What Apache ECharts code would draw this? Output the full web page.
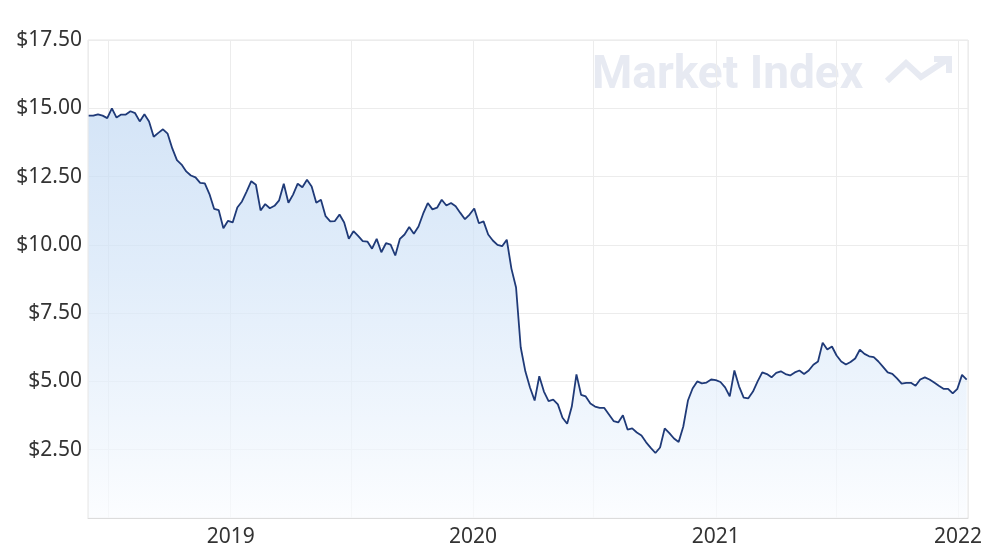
<!DOCTYPE html>
<html>
<head>
<meta charset="utf-8">
<script src="https://cdn.jsdelivr.net/npm/echarts@6/dist/echarts.min.js"></script>
<style>
html,body{margin:0;padding:0;background:#fff;}
#chart{width:1000px;height:559px;}
</style>
</head>
<body>
<div id="chart"></div>
<script>
// Weekly closing dates (MM-DD per year)
var weeks2018 = ['06-01','06-08','06-15','06-22','06-29','07-06','07-13','07-20','07-27','08-03','08-10','08-17','08-24','08-31','09-07','09-14','09-21','09-28','10-05','10-12','10-19','10-26','11-02','11-09','11-16','11-23','11-30','12-07','12-14','12-21','12-28'];
var weeks2019 = ['01-04','01-11','01-18','01-25','02-01','02-08','02-15','02-22','03-01','03-08','03-15','03-22','03-29','04-05','04-12','04-19','04-26','05-03','05-10','05-17','05-24','05-31','06-07','06-14','06-21','06-28','07-05','07-12','07-19','07-26','08-02','08-09','08-16','08-23','08-30','09-06','09-13','09-20','09-27','10-04','10-11','10-18','10-25','11-01','11-08','11-15','11-22','11-29','12-06','12-13','12-20','12-27'];
var weeks2020 = ['01-03','01-10','01-17','01-24','01-31','02-07','02-14','02-21','02-28','03-06','03-13','03-20','03-27','04-03','04-10','04-17','04-24','05-01','05-08','05-15','05-22','05-29','06-05','06-12','06-19','06-26','07-03','07-10','07-17','07-24','07-31','08-07','08-14','08-21','08-28','09-04','09-11','09-18','09-25','10-02','10-09','10-16','10-23','10-30','11-06','11-13','11-20','11-27','12-04','12-11','12-18','12-25'];
var weeks2021 = ['01-01','01-08','01-15','01-22','01-29','02-05','02-12','02-19','02-26','03-05','03-12','03-19','03-26','04-02','04-09','04-16','04-23','04-30','05-07','05-14','05-21','05-28','06-04','06-11','06-18','06-25','07-02','07-09','07-16','07-23','07-30','08-06','08-13','08-20','08-27','09-03','09-10','09-17','09-24','10-01','10-08','10-15','10-22','10-29','11-05','11-12','11-19','11-26','12-03','12-10','12-17','12-24','12-31'];
var weeks2022 = ['01-07','01-14'];

// Share price ($) per week
var prices2018 = [14.73,14.73,14.78,14.73,14.64,15.00,14.66,14.77,14.77,14.89,14.82,14.52,14.78,14.52,13.96,14.10,14.23,14.07,13.53,13.10,12.94,12.69,12.54,12.47,12.27,12.25,11.86,11.32,11.27,10.61,10.88];
var prices2019 = [10.82,11.37,11.59,11.95,12.33,12.20,11.26,11.49,11.34,11.43,11.63,12.24,11.54,11.84,12.24,12.11,12.38,12.14,11.54,11.65,11.05,10.86,10.87,11.11,10.82,10.22,10.50,10.33,10.14,10.12,9.86,10.22,9.73,10.06,10.01,9.61,10.22,10.38,10.65,10.41,10.67,11.14,11.53,11.30,11.36,11.65,11.44,11.53,11.41,11.17,10.94,11.11];
var prices2020 = [11.33,10.79,10.86,10.38,10.16,10.00,9.95,10.19,9.13,8.44,6.25,5.37,4.78,4.30,5.19,4.63,4.28,4.33,4.16,3.67,3.45,4.08,5.26,4.51,4.45,4.19,4.08,4.03,4.03,3.79,3.55,3.50,3.76,3.24,3.28,3.13,3.02,2.77,2.57,2.38,2.58,3.28,3.11,2.91,2.78,3.35,4.30,4.74,5.00,4.93,4.96,5.07];
var prices2021 = [5.05,4.98,4.78,4.45,5.40,4.82,4.41,4.38,4.63,5.00,5.33,5.27,5.15,5.31,5.37,5.27,5.22,5.33,5.40,5.27,5.40,5.61,5.73,6.42,6.17,6.28,5.95,5.73,5.62,5.71,5.84,6.16,6.01,5.92,5.89,5.73,5.53,5.33,5.28,5.11,4.92,4.95,4.95,4.84,5.07,5.15,5.07,4.96,4.84,4.73,4.73,4.56,4.73];
var prices2022 = [5.24,5.07];

var yTicks = [0, 2.5, 5, 7.5, 10, 12.5, 15, 17.5];

function withYear(y, arr){ return arr.map(function(d){ return y + '-' + d; }); }
var dates = [].concat(withYear(2018,weeks2018), withYear(2019,weeks2019), withYear(2020,weeks2020), withYear(2021,weeks2021), withYear(2022,weeks2022));
var prices = [].concat(prices2018, prices2019, prices2020, prices2021, prices2022);
var seriesData = dates.map(function(d,i){ return [d, prices[i]]; });

var chart = echarts.init(document.getElementById('chart'), null, {renderer:'canvas'});
var FONT = '"Noto Sans", Roboto, sans-serif';
chart.setOption({
  animation:false,
  backgroundColor:'#ffffff',
  grid:{left:88,right:32,top:40,bottom:41,show:true,borderColor:'#e6e6e6',borderWidth:1,backgroundColor:'transparent'},
  graphic:[
    {type:'text',left:592,top:53,z:0,style:{text:'Market Index',fill:'#e7eaf2',font:'bold 46px Roboto, sans-serif'}},
    {type:'polyline',z:0,shape:{points:[[887,81],[906,63],[921,77],[948,59]]},style:{stroke:'#e7eaf2',lineWidth:6,fill:null,lineJoin:'miter'}},
    {type:'polyline',z:0,shape:{points:[[934,59],[949,59],[949,73]]},style:{stroke:'#e7eaf2',lineWidth:6,fill:null}}
  ],
  xAxis:{
    type:'time',
    min:'2018-05-31',
    max:'2022-01-16',
    splitNumber:7,
    axisLine:{show:true,lineStyle:{color:'#dcdcdc'}},
    axisTick:{show:false},
    splitLine:{show:true,lineStyle:{color:'#ececec',width:1}},
    axisLabel:{
      color:'#333',fontSize:21,fontFamily:FONT,margin:9,hideOverlap:false,
      formatter:function(v){ var d=new Date(v); return (d.getMonth()===0 && d.getDate()===1) ? String(d.getFullYear()) : ''; }
    }
  },
  yAxis:{
    type:'value',
    min:yTicks[0],
    max:yTicks[yTicks.length-1],
    interval:2.5,
    axisLine:{show:false},
    axisTick:{show:false},
    splitLine:{show:true,lineStyle:{color:'#ececec',width:1}},
    axisLabel:{
      color:'#333',fontSize:21,fontFamily:FONT,margin:6,
      formatter:function(v){ return v===0 ? '' : '$' + v.toFixed(2); }
    }
  },
  series:[{
    type:'line',
    data:seriesData,
    showSymbol:false,
    symbol:'none',
    z:3,
    lineStyle:{color:'#1f3a78',width:1.8},
    areaStyle:{
      color:new echarts.graphic.LinearGradient(0,0,0,1,[
        {offset:0,color:'#c2d9f3'},
        {offset:0.4,color:'#d4e5f8'},
        {offset:0.75,color:'#e9f2fc'},
        {offset:1,color:'#fafcff'}
      ])
    }
  }]
});
</script>
</body>
</html>
